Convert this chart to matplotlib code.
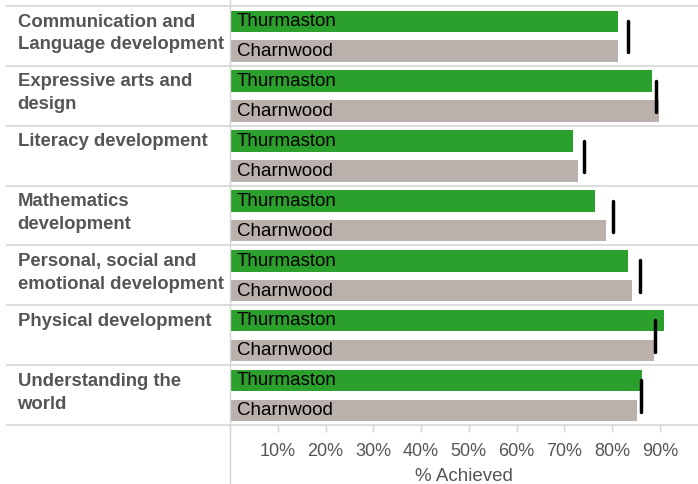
import matplotlib
matplotlib.use('Agg')
import matplotlib.pyplot as plt
import matplotlib.transforms as mtransforms
from matplotlib.lines import Line2D

categories = ['Communication and\nLanguage development', 'Expressive arts and\ndesign',
              'Literacy development', 'Mathematics\ndevelopment',
              'Personal, social and\nemotional development', 'Physical development',
              'Understanding the\nworld']
thurmaston = [81.3, 88.3, 71.9, 76.5, 83.4, 90.9, 86.3]
charnwood = [81.3, 89.9, 72.9, 78.8, 84.2, 88.8, 85.3]
national = [83.4, 89.2, 74.2, 80.2, 85.9, 88.9, 86.0]
xticks = [0, 10, 20, 30, 40, 50, 60, 70, 80, 90]
xticklabels = [''] + ['%d%%' % t for t in xticks[1:]]

plt.rcParams['font.family'] = ['Liberation Sans', 'DejaVu Sans']

fig = plt.figure(figsize=(6.98, 4.85), dpi=100)
ax = fig.add_axes([230/698, 59/485, 1 - 230/698, (426-7)/485])

n = len(categories)
rows = range(n)
ax.barh([i + 0.256 for i in rows], thurmaston, height=0.36, color='#2ca02c')
ax.barh([i + 0.754 for i in rows], charnwood, height=0.36, color='#bab0ac')
for i in rows:
	ax.plot([national[i], national[i]], [i + 0.25, i + 0.775], color='black', lw=2.5,
			solid_capstyle='round')
	ax.text(1.4, i + 0.245, 'Thurmaston', va='center', ha='left', fontsize=13.5, color='black')
	ax.text(1.4, i + 0.745, 'Charnwood', va='center', ha='left', fontsize=13.5, color='black')

ax.set_xlim(0, 98)
ax.set_ylim(n, 0)
ax.set_yticks([])
for s in ax.spines.values():
	s.set_visible(False)
ax.set_xticks(xticks)
ax.set_xticklabels(xticklabels)
ax.tick_params(axis='x', length=5, width=1, color='#d4d4d4', labelsize=13, labelcolor='#555555', pad=7)
ax.set_xlabel('% Achieved', fontsize=13.5, color='#555555', labelpad=6)

# row separators and category labels, left part in figure coords
trans = mtransforms.blended_transform_factory(fig.transFigure, ax.transData)
for i in range(n + 1):
	ax.add_line(Line2D([7/698, 1], [i, i], transform=trans, color='#d9d9d9', lw=1.3, clip_on=False))
for i in rows:
	ax.text(17.5/698, i + 0.11, categories[i], transform=trans, va='top', ha='left',
			fontsize=13.3, fontweight='bold', color='#555555', linespacing=1.45)

fig.add_artist(Line2D([230/698, 230/698], [0, 1], transform=fig.transFigure, color='#d4d4d4', lw=1))

plt.savefig('out.png', dpi=100)
